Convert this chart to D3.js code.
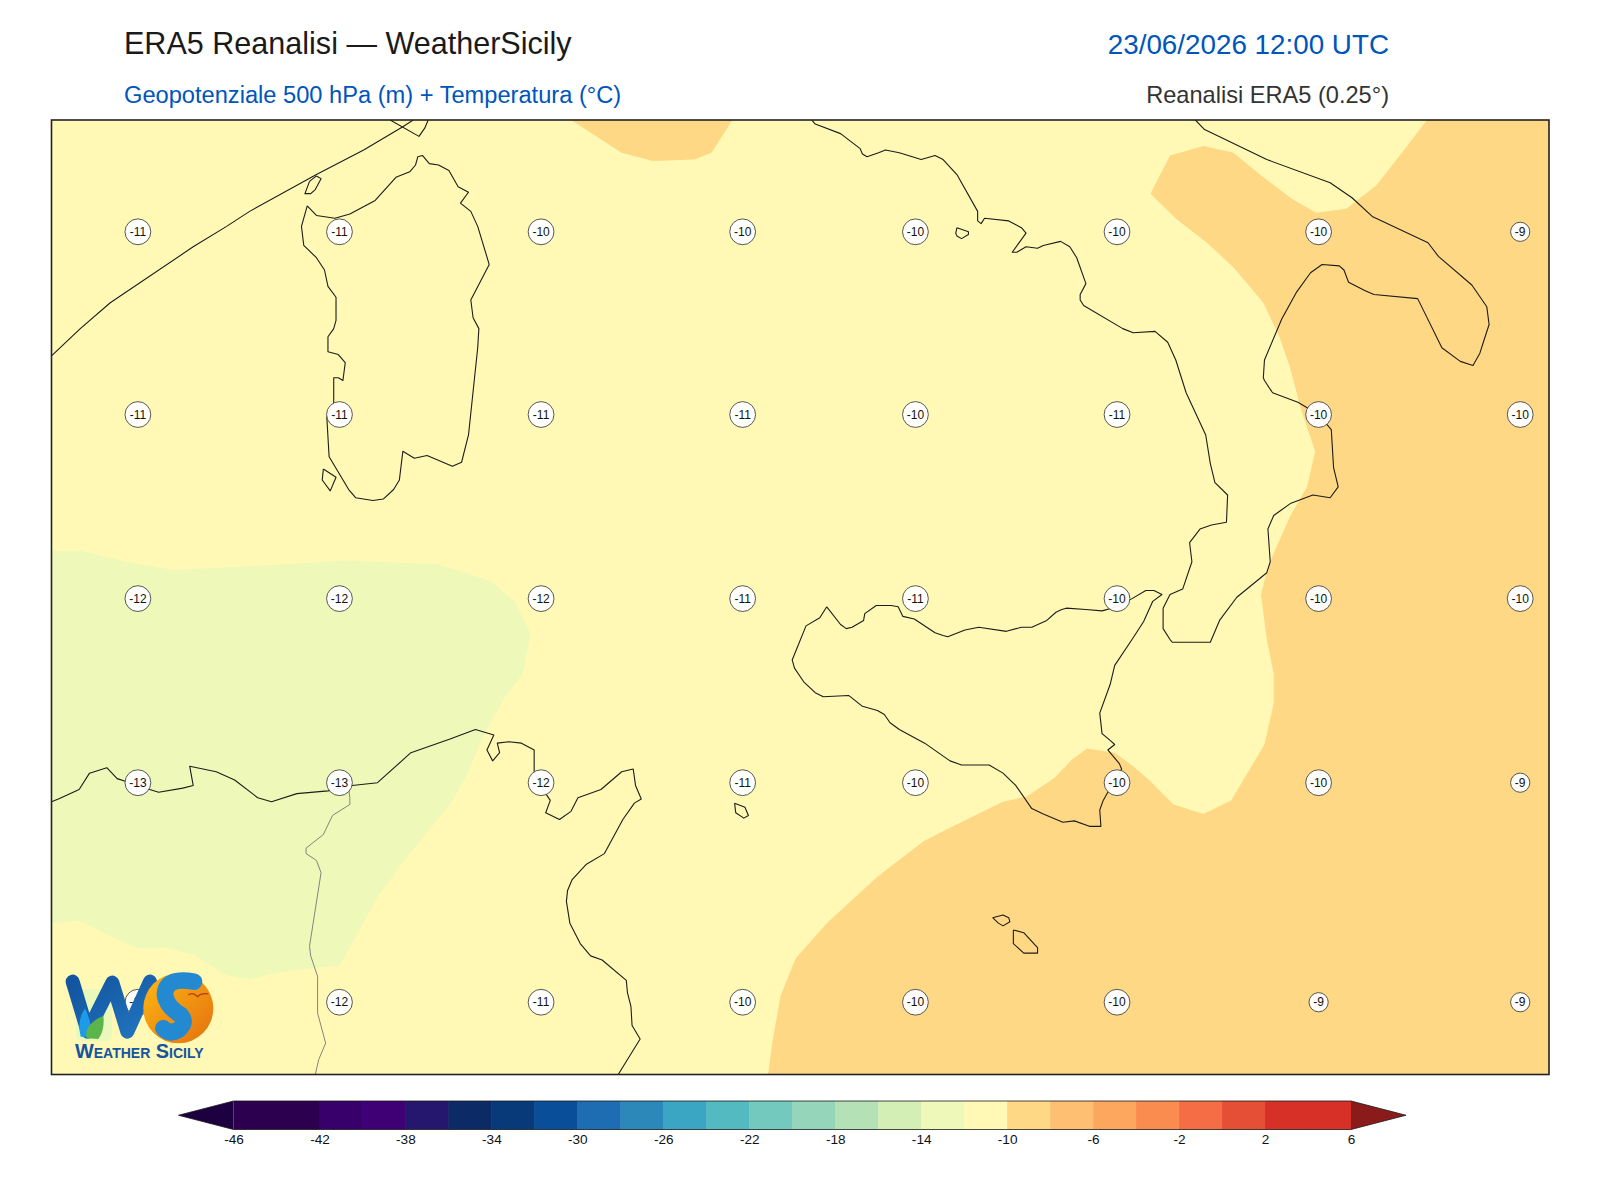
<!DOCTYPE html>
<html>
<head>
<meta charset="utf-8">
<script src="https://cdn.jsdelivr.net/npm/d3@7"></script>
<style>
  body { margin: 0; background: #fff; }
  text { font-family: "Liberation Sans", Arial, sans-serif; }
</style>
</head>
<body>
<svg id="chart" width="1600" height="1200"></svg>
<script>
// header texts
const titleLeft = "ERA5 Reanalisi — WeatherSicily";
const titleRight = "23/06/2026 12:00 UTC";
const subLeft = "Geopotenziale 500 hPa (m) + Temperatura (°C)";
const subRight = "Reanalisi ERA5 (0.25°)";

// map extent in degrees
const lonExtent = [6, 19];
const latExtent = [42, 35];

// temperature labels
const stationLons = [6.75, 8.5, 10.25, 12, 13.5, 15.25, 17, 18.75];
const stationLats = [41.18, 39.84, 38.49, 37.14, 35.53];
const stationTemps = [
    [-11, -11, -10, -10, -10, -10, -10, -9],
    [-11, -11, -11, -11, -10, -11, -10, -10],
    [-12, -12, -12, -11, -11, -10, -10, -10],
    [-13, -13, -12, -11, -10, -10, -10, -9],
    [-12, -12, -11, -10, -10, -10, -9, -9]
];

// colour bar
const cbarLevels = d3.range(-46, 8, 2);
const cbarTicks = [-46, -42, -38, -34, -30, -26, -22, -18, -14, -10, -6, -2, 2, 6];
const cbarColors = ["#2d004f", "#2d004f", "#38006a", "#3f0076", "#25176e", "#0b2a66", "#083a7a", "#084e98",
    "#1e6db2", "#2d88ba", "#3aa6c4", "#52bac0", "#73c9bd", "#95d5ba", "#b4e2b6", "#d3efb6", "#edf8b9",
    "#fff9b5", "#fed884", "#febf72", "#fda75e", "#fb8c50", "#f46d45", "#e54f35", "#d73027", "#d73027"];
const cbarUnder = "#1c0040";
const cbarOver = "#8b1a1a";

// filled temperature areas
const warmTop = [[10.51,42],[10.95,41.76],[11.22,41.70],[11.58,41.71],[11.73,41.76],[11.91,42]];
const warmMain = [[17.94,42],[17.76,41.80],[17.50,41.52],[17.24,41.35],[16.98,41.32],[16.77,41.42],[16.52,41.58],
    [16.26,41.76],[16.00,41.81],[15.71,41.74],[15.54,41.46],[15.77,41.27],[16.03,41.10],[16.26,40.92],[16.52,40.66],
    [16.66,40.41],[16.75,40.19],[16.85,39.87],[16.97,39.57],[16.90,39.31],[16.75,39.09],[16.61,38.82],[16.56,38.72],
    [16.50,38.52],[16.55,38.19],[16.61,37.94],[16.61,37.72],[16.53,37.42],[16.24,37.01],[16.00,36.91],[15.74,36.98],
    [15.54,37.15],[15.39,37.26],[15.23,37.36],[14.99,37.39],[14.86,37.31],[14.70,37.17],[14.47,37.04],[14.26,37.00],
    [14.09,36.93],[13.92,36.86],[13.80,36.81],[13.57,36.71],[13.17,36.45],[12.73,36.11],[12.46,35.85],[12.33,35.58],
    [12.26,35.25],[12.22,35],[19,35],[19,42]];
const coldWest = [[6,38.84],[6.26,38.84],[6.70,38.75],[7.06,38.70],[7.77,38.73],[8.56,38.77],[9.36,38.74],[9.81,38.62],
    [10.02,38.47],[10.16,38.23],[10.09,37.94],[9.92,37.75],[9.75,37.48],[9.60,37.19],[9.46,36.98],[9.09,36.60],
    [8.83,36.30],[8.61,35.96],[8.50,35.80],[8.24,35.78],[7.98,35.75],[7.72,35.70],[7.51,35.73],[7.40,35.79],[7.23,35.88],
    [6.97,35.93],[6.74,35.93],[6.52,36.01],[6.36,36.08],[6.23,36.13],[6,36.11]];

// coastlines
const sardinia = [[8.22,41.37],[8.30,41.30],[8.46,41.28],[8.59,41.31],[8.81,41.41],[8.99,41.58],[9.11,41.62],[9.16,41.67],
    [9.18,41.73],[9.22,41.74],[9.28,41.68],[9.36,41.67],[9.45,41.63],[9.53,41.51],[9.62,41.47],[9.55,41.39],[9.64,41.33],
    [9.70,41.22],[9.80,40.94],[9.64,40.68],[9.66,40.55],[9.71,40.47],[9.70,40.33],[9.62,39.69],[9.56,39.49],[9.48,39.46],
    [9.26,39.54],[9.15,39.52],[9.05,39.57],[9.02,39.36],[8.97,39.29],[8.88,39.22],[8.79,39.21],[8.64,39.23],[8.58,39.29],
    [8.41,39.53],[8.39,39.82],[8.45,39.92],[8.45,40.11],[8.49,40.11],[8.53,40.09],[8.55,40.22],[8.49,40.28],[8.40,40.30],
    [8.40,40.41],[8.45,40.47],[8.47,40.53],[8.47,40.70],[8.40,40.78],[8.37,40.90],[8.30,40.99],[8.19,41.08],[8.17,41.22],[8.22,41.37]];
const santAntioco = [[8.36,39.44],[8.47,39.38],[8.42,39.28],[8.35,39.36],[8.36,39.44]];
const asinara = [[8.30,41.59],[8.34,41.57],[8.29,41.49],[8.25,41.46],[8.20,41.46],[8.24,41.55],[8.30,41.59]];
const corsica = [[8.94,42],[9.19,41.88],[9.24,41.94],[9.27,42]];
const corsicaWest = [[9.14,42],[9.05,41.95],[8.71,41.78],[8.30,41.60],[7.72,41.33],[7.52,41.22],[7.23,41.07],[6.51,40.66],[6.25,40.47],[6,40.27]];
const italy = [[12.60,42],[12.63,41.97],[12.85,41.90],[13.02,41.79],[13.04,41.75],[13.08,41.73],[13.18,41.76],[13.24,41.78],
    [13.36,41.76],[13.55,41.71],[13.67,41.74],[13.74,41.71],[13.86,41.60],[14.04,41.33],[14.04,41.26],[14.07,41.24],[14.10,41.28],
    [14.31,41.26],[14.42,41.21],[14.46,41.17],[14.34,41.03],[14.38,41.03],[14.46,41.07],[14.56,41.06],[14.61,41.08],[14.76,41.11],
    [14.84,41.07],[14.90,40.99],[14.98,40.80],[14.93,40.72],[14.93,40.68],[14.96,40.64],[15.30,40.47],[15.39,40.44],[15.58,40.45],
    [15.69,40.37],[15.76,40.24],[15.85,40.00],[16.02,39.69],[16.06,39.48],[16.10,39.34],[16.21,39.25],[16.20,39.05],[16.07,39.03],
    [15.97,39.00],[15.88,38.90],[15.90,38.76],[15.82,38.56],[15.71,38.52],[15.65,38.42],[15.65,38.27],[15.71,38.19],[15.73,38.17],
    [16.06,38.17],[16.07,38.19],[16.14,38.33],[16.29,38.50],[16.55,38.68],[16.58,38.76],[16.56,39.00],[16.61,39.10],[16.76,39.19],
    [16.95,39.25],[17.10,39.23],[17.17,39.31],[17.13,39.45],[17.11,39.73],[17.00,39.84],[16.82,39.93],[16.60,40.00],[16.53,40.09],
    [16.52,40.11],[16.53,40.24],[16.68,40.54],[16.81,40.74],[16.93,40.88],[17.03,40.94],[17.18,40.93],[17.22,40.90],[17.26,40.81],
    [17.40,40.75],[17.48,40.72],[17.86,40.69],[18.07,40.33],[18.23,40.23],[18.34,40.20],[18.40,40.29],[18.43,40.37],[18.48,40.50],
    [18.46,40.63],[18.33,40.79],[18.04,41.00],[17.95,41.10],[17.47,41.29],[17.29,41.43],[17.10,41.54],[16.55,41.71],[16.01,41.93],[15.93,42]];
const ponza = [[13.86,41.21],[13.96,41.18],[13.96,41.16],[13.90,41.13],[13.86,41.15],[13.85,41.17],[13.86,41.21]];
const sicily = [[12.73,38.43],[12.67,38.35],[12.55,38.29],[12.43,38.04],[12.45,37.98],[12.53,37.88],[12.63,37.80],[12.70,37.77],
    [12.92,37.78],[13.04,37.70],[13.17,37.67],[13.23,37.64],[13.28,37.58],[13.36,37.53],[13.58,37.43],[13.80,37.30],[13.90,37.27],
    [14.14,37.27],[14.26,37.21],[14.37,37.12],[14.51,36.95],[14.61,36.91],[14.78,36.85],[14.88,36.86],[15.01,36.82],[15.11,36.82],
    [15.10,36.94],[15.13,37.01],[15.17,37.07],[15.29,37.24],[15.27,37.28],[15.17,37.38],[15.23,37.42],[15.19,37.45],[15.12,37.50],
    [15.10,37.65],[15.19,37.86],[15.23,38.00],[15.38,38.19],[15.48,38.32],[15.56,38.47],[15.64,38.52],[15.57,38.55],[15.50,38.55],
    [15.38,38.49],[15.25,38.43],[15.12,38.40],[14.98,38.41],[14.81,38.42],[14.77,38.41],[14.72,38.39],[14.64,38.33],[14.51,38.28],
    [14.42,38.28],[14.29,38.25],[14.05,38.28],[13.93,38.26],[13.78,38.21],[13.74,38.22],[13.67,38.24],[13.49,38.34],[13.39,38.36],
    [13.35,38.43],[13.29,38.44],[13.16,38.44],[13.06,38.38],[13.05,38.33],[12.95,38.28],[12.90,38.27],[12.85,38.30],[12.73,38.43]];
const pantelleria = [[11.93,36.99],[12.02,36.96],[12.05,36.90],[12.01,36.88],[11.94,36.92],[11.93,36.99]];
const gozo = [[14.17,36.15],[14.26,36.17],[14.31,36.15],[14.32,36.12],[14.26,36.09],[14.22,36.11],[14.17,36.15]];
const malta = [[14.35,36.06],[14.44,36.04],[14.56,35.93],[14.56,35.89],[14.44,35.89],[14.35,35.96],[14.35,36.06]];
const northAfrica = [[6,37.00],[6.06,37.02],[6.24,37.09],[6.33,37.21],[6.48,37.25],[6.57,37.17],[6.64,37.15],[6.74,37.12],[6.93,37.07],
    [7.14,37.10],[7.23,37.12],[7.20,37.26],[7.43,37.22],[7.59,37.16],[7.79,37.03],[7.91,37.00],[8.13,37.06],[8.40,37.08],[8.61,37.12],
    [8.83,37.14],[9.12,37.36],[9.46,37.46],[9.68,37.53],[9.76,37.51],[9.84,37.49],[9.78,37.38],[9.83,37.30],[9.89,37.36],[9.87,37.43],
    [9.97,37.44],[10.08,37.43],[10.19,37.38],[10.19,37.22],[10.29,37.06],[10.33,37.01],[10.29,36.92],[10.41,36.87],[10.51,36.93],
    [10.57,37.03],[10.77,37.09],[10.95,37.22],[11.05,37.24],[11.07,37.12],[11.12,37.02],[11.06,36.99],[10.96,36.87],[10.80,36.62],
    [10.64,36.54],[10.52,36.43],[10.48,36.35],[10.47,36.27],[10.50,36.11],[10.59,35.96],[10.68,35.87],[10.78,35.84],[10.99,35.69],
    [11.00,35.60],[11.03,35.50],[11.04,35.36],[11.11,35.26],[11.00,35.11],[10.92,35]];
const tunisiaBorder = [[8.58,37.09],[8.59,37.03],[8.59,36.98],[8.44,36.90],[8.36,36.76],[8.21,36.66],[8.21,36.62],[8.30,36.57],[8.34,36.48],
    [8.24,35.94],[8.25,35.87],[8.31,35.72],[8.31,35.45],[8.38,35.23],[8.32,35.11],[8.29,35]];

const coastLines = [sardinia, santAntioco, asinara, corsica, corsicaWest, italy, ponza, sicily, pantelleria, gozo, malta, northAfrica];

const frame = { left: 51.5, right: 1549, top: 120, bottom: 1074.5 };

const svg = d3.select("#chart");

const x = d3.scaleLinear().domain(lonExtent).range([frame.left, frame.right]);
const y = d3.scaleLinear().domain(latExtent).range([frame.top, frame.bottom]);
const geoLine = d3.line().x(d => x(d[0])).y(d => y(d[1]));

// titles
svg.append("text").attr("x", 124).attr("y", 54).attr("font-size", 30.55).attr("fill", "#1a1a1a").text(titleLeft);
svg.append("text").attr("x", 1389).attr("y", 54).attr("font-size", 27.8).attr("text-anchor", "end").attr("fill", "#0055bb").text(titleRight);
svg.append("text").attr("x", 124).attr("y", 103).attr("font-size", 23.65).attr("fill", "#0055bb").text(subLeft);
svg.append("text").attr("x", 1389).attr("y", 103).attr("font-size", 23.6).attr("text-anchor", "end").attr("fill", "#333").text(subRight);

// map
svg.append("clipPath").attr("id", "map-clip").append("rect")
    .attr("x", frame.left).attr("y", frame.top)
    .attr("width", frame.right - frame.left).attr("height", frame.bottom - frame.top);

const map = svg.append("g").attr("clip-path", "url(#map-clip)");

const binColor = (v) => cbarColors[cbarLevels.findIndex(l => v >= l && v < l + 2)];

map.append("rect")
    .attr("x", frame.left).attr("y", frame.top)
    .attr("width", frame.right - frame.left).attr("height", frame.bottom - frame.top)
    .attr("fill", binColor(-11));

map.append("path").attr("d", geoLine(coldWest) + "Z").attr("fill", binColor(-13));
map.append("path").attr("d", geoLine(warmTop) + "Z").attr("fill", binColor(-9));
map.append("path").attr("d", geoLine(warmMain) + "Z").attr("fill", binColor(-9));

map.append("path").attr("d", geoLine(tunisiaBorder))
    .attr("fill", "none").attr("stroke", "#777").attr("stroke-width", 0.9);

map.selectAll(".coast")
    .data(coastLines)
    .enter()
    .append("path")
    .attr("class", "coast")
    .attr("d", d => geoLine(d))
    .attr("fill", "none")
    .attr("stroke", "#1c1c1c")
    .attr("stroke-width", 1.1)
    .attr("stroke-linejoin", "round");

// station labels
stationLats.forEach((lat, r) => {
    stationLons.forEach((lon, c) => {
        const t = stationTemps[r][c];
        const g = map.append("g").attr("transform", `translate(${x(lon)},${y(lat)})`);
        g.append("circle")
            .attr("r", t > -10 ? 9.6 : 12.9)
            .attr("fill", "#fff")
            .attr("fill-opacity", 0.95)
            .attr("stroke", "#444")
            .attr("stroke-width", 0.9);
        g.append("text")
            .attr("text-anchor", "middle")
            .attr("dy", "0.35em")
            .attr("font-size", 12)
            .attr("fill", "#111")
            .text(t);
    });
});

// map frame
svg.append("rect")
    .attr("x", frame.left).attr("y", frame.top)
    .attr("width", frame.right - frame.left).attr("height", frame.bottom - frame.top)
    .attr("fill", "none").attr("stroke", "#222").attr("stroke-width", 1.6);

// colour bar
const cbar = { left: 233.5, right: 1351, top: 1101, bottom: 1129.5, tip: 55 };
const cx = d3.scaleLinear().domain([-46, 6]).range([cbar.left, cbar.right]);

const cbarG = svg.append("g");

cbarG.selectAll(".bin")
    .data(cbarColors)
    .enter()
    .append("rect")
    .attr("class", "bin")
    .attr("x", (d, i) => cx(cbarLevels[i]))
    .attr("y", cbar.top)
    .attr("width", (d, i) => cx(cbarLevels[i + 1]) - cx(cbarLevels[i]) + 0.5)
    .attr("height", cbar.bottom - cbar.top)
    .attr("fill", d => d);

const midY = (cbar.top + cbar.bottom) / 2;
cbarG.append("path")
    .attr("d", `M${cbar.left},${cbar.top}L${cbar.left - cbar.tip},${midY}L${cbar.left},${cbar.bottom}Z`)
    .attr("fill", cbarUnder);
cbarG.append("path")
    .attr("d", `M${cbar.right},${cbar.top}L${cbar.right + cbar.tip},${midY}L${cbar.right},${cbar.bottom}Z`)
    .attr("fill", cbarOver);
cbarG.append("path")
    .attr("d", `M${cbar.left},${cbar.top}L${cbar.left - cbar.tip},${midY}L${cbar.left},${cbar.bottom}L${cbar.right},${cbar.bottom}L${cbar.right + cbar.tip},${midY}L${cbar.right},${cbar.top}Z`)
    .attr("fill", "none").attr("stroke", "#1a1a1a").attr("stroke-width", 0.8);

const cAxis = d3.axisBottom(cx).tickValues(cbarTicks).tickSize(0).tickPadding(5).tickFormat(d => String(d));
const cAxisG = svg.append("g").attr("transform", `translate(0,${cbar.bottom})`).call(cAxis);
cAxisG.select(".domain").remove();
cAxisG.selectAll("text").attr("font-size", 13.6).attr("font-family", '"Liberation Sans", Arial, sans-serif').attr("fill", "#111");

// logo
const defs = svg.append("defs");
const wGrad = defs.append("linearGradient").attr("id", "ws-w").attr("x1", 0).attr("x2", 1).attr("y1", 0).attr("y2", 1);
wGrad.append("stop").attr("offset", "0%").attr("stop-color", "#12549f");
wGrad.append("stop").attr("offset", "100%").attr("stop-color", "#2274bf");
const sunGrad = defs.append("linearGradient").attr("id", "ws-sun").attr("x1", 0).attr("x2", 1).attr("y1", 0).attr("y2", 1);
sunGrad.append("stop").attr("offset", "0%").attr("stop-color", "#fdb914");
sunGrad.append("stop").attr("offset", "100%").attr("stop-color", "#e4700f");

const logo = svg.append("g").attr("transform", "translate(50,700) scale(0.3333)");
logo.append("rect").attr("x", 78).attr("y", 868).attr("width", 108).attr("height", 155).attr("rx", 16).attr("fill", "#eaf8bb");
logo.append("path").attr("d", "M68,845L113,995L187,848L232,995L300,845")
    .attr("fill", "none").attr("stroke", "url(#ws-w)").attr("stroke-width", 42).attr("stroke-linecap", "round").attr("stroke-linejoin", "round");
logo.append("path").attr("d", "M92,1010Q80,960 105,925Q125,965 125,1010Z").attr("fill", "#1e9be8");
logo.append("path").attr("d", "M110,1015Q100,975 160,947Q165,990 145,1017Z").attr("fill", "#5cb54a");
logo.append("circle").attr("cx", 385).attr("cy", 925).attr("r", 105).attr("fill", "url(#ws-sun)");
logo.append("path").attr("d", "M432,845Q345,830 345,885Q350,920 392,945Q412,968 385,990Q360,1005 340,985")
    .attr("fill", "none").attr("stroke", "#2389d0").attr("stroke-width", 50).attr("stroke-linecap", "round");
logo.append("path").attr("d", "M415,885Q430,875 442,890Q455,878 475,882")
    .attr("fill", "none").attr("stroke", "#b5400f").attr("stroke-width", 4);

svg.append("text")
    .attr("x", 75).attr("y", 1058)
    .attr("font-size", 19.9).attr("font-weight", "bold")
    .attr("font-family", '"Liberation Serif", serif')
    .style("font-variant", "small-caps")
    .attr("fill", "#15549f")
    .text("Weather Sicily");
</script>
</body>
</html>
